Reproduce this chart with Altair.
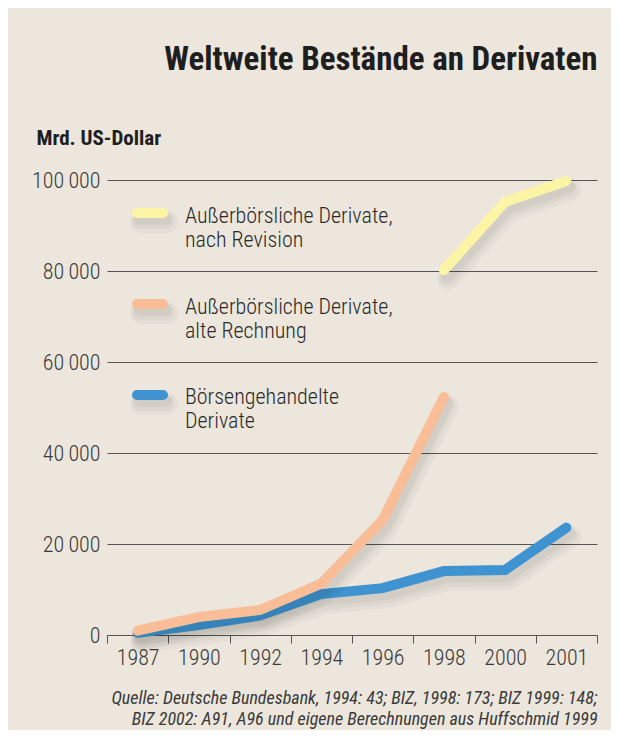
import altair as alt
import pandas as pd

years = ["1987", "1990", "1992", "1994", "1996", "1998", "2000", "2001"]
boerse = [500, 2200, 4300, 9000, 10300, 14050, 14300, 23600]
alte_rechnung = [950, 3950, 5500, 11300, 25300, 52300, None, None]
revision = [None, None, None, None, None, 80200, 95200, 99800]

series_names = [
    "Börsengehandelte Derivate",
    "Außerbörsliche Derivate, alte Rechnung",
    "Außerbörsliche Derivate, nach Revision",
]
series_values = [boerse, alte_rechnung, revision]
colors = ["#3e93d0", "#f9be98", "#fdf5a6"]
legend_lines = [
    "Börsengehandelte\nDerivate",
    "Außerbörsliche Derivate,\nalte Rechnung",
    "Außerbörsliche Derivate,\nnach Revision",
]

y_ticks = [0, 20000, 40000, 60000, 80000, 100000]

title_text = "Weltweite Bestände an Derivaten"
unit_text = "Mrd. US-Dollar"
source_lines = [
    "Quelle: Deutsche Bundesbank, 1994: 43; BIZ, 1998: 173; BIZ 1999: 148;",
    "BIZ 2002: A91, A96 und eigene Berechnungen aus Huffschmid 1999",
]

rows = []
for name, vals in zip(series_names, series_values):
    for yr, v in zip(years, vals):
        if v is not None:
            rows.append({"year": yr, "value": v, "series": name})
df = pd.DataFrame(rows)
one = pd.DataFrame({"k": [0]})

FONT = "'Roboto Condensed', 'Liberation Sans Narrow', 'DejaVu Sans Condensed', 'Roboto', sans-serif"
BG = "#ece6dd"
W, H = 490, 455

x_enc = alt.X(
    "year:O",
    sort=years,
    bandPosition=0.5,
    scale=alt.Scale(type="band", paddingInner=0, paddingOuter=0),
    axis=alt.Axis(
        title=source_lines,
        titleFont=FONT,
        titleFontSize=18,
        titleFontStyle="italic",
        titleFontWeight="normal",
        titleColor="#3a3a3a",
        titleAlign="right",
        titleAnchor="end",
        titleBaseline="alphabetic",
        titleLineHeight=21,
        titleX=W,
        titleY=68,
        labelFont=FONT,
        labelFontSize=22,
        labelFontWeight=300,
        labelColor="#3a3a3a",
        labelAngle=0,
        labelPadding=4,
        tickBand="extent",
        tickSize=8,
        tickColor="#555555",
        domainColor="#555555",
        grid=False,
    ),
)
y_enc = alt.Y(
    "value:Q",
    scale=alt.Scale(domain=[0, 100000], nice=False),
    axis=alt.Axis(
        values=y_ticks,
        labelExpr="replace(format(datum.value, ','), ',', '\u2009')",
        labelFont=FONT,
        labelFontSize=22,
        labelFontWeight=300,
        labelColor="#3a3a3a",
        labelPadding=7,
        labelLimit=300,
        ticks=False,
        domain=False,
        grid=True,
        gridColor="#555555",
        gridWidth=1,
        title=unit_text,
        titleFont=FONT,
        titleFontSize=21,
        titleFontWeight="bold",
        titleColor="#1e1e1e",
        titleAngle=0,
        titleAlign="left",
        titleBaseline="alphabetic",
        titleX=-71,
        titleY=-36,
    ),
)

SHADOWS = [(22, 0.03, 4, 9), (16, 0.035, 3, 8), (12, 0.04, 3, 6)]

base = alt.Chart(df)
layers = []
for name, col in zip(series_names, colors):
    sub = base.transform_filter(alt.datum.series == name)
    for sw, op, dx, dy in SHADOWS:
        layers.append(
            sub.mark_line(color="#000000", opacity=op, strokeWidth=sw, strokeCap="round",
                          strokeJoin="round", xOffset=dx, yOffset=dy).encode(x=x_enc, y=y_enc)
        )
    layers.append(
        sub.mark_line(color=col, strokeWidth=10, strokeCap="round", strokeJoin="miter").encode(
            x=x_enc, y=y_enc
        )
    )

# manual legend (top to bottom: revision, alte Rechnung, börse)
leg_sym_y = [215, 124, 33]
leg_txt_y = [224, 134, 43]
for col, txt, sy, ty in zip(colors, legend_lines, leg_sym_y, leg_txt_y):
    for sw, op, dx, dy in SHADOWS:
        layers.append(
            alt.Chart(one).mark_rule(color="#000000", opacity=op, strokeWidth=sw, strokeCap="round").encode(
                x=alt.value(30 + dx), x2=alt.value(56 + dx), y=alt.value(sy + dy)
            )
        )
    layers.append(
        alt.Chart(one).mark_rule(color=col, strokeWidth=10, strokeCap="round").encode(
            x=alt.value(30), x2=alt.value(56), y=alt.value(sy)
        )
    )
    layers.append(
        alt.Chart(one).mark_text(
            text=txt, lineBreak="\n", align="left", baseline="alphabetic",
            font=FONT, fontSize=22, fontWeight=300, lineHeight=24, color="#2a2a2a",
        ).encode(x=alt.value(78), y=alt.value(ty))
    )

chart = (
    alt.layer(*layers)
    .properties(
        width=W,
        height=H,
        background=BG,
        padding={"left": 99, "top": 172, "right": 14, "bottom": 95},
        autosize=alt.AutoSizeParams(type="none"),
        title=alt.TitleParams(
            text=title_text,
            anchor="end",
            font=FONT,
            fontSize=33,
            fontWeight="bold",
            color="#1e1e1e",
            offset=50,
        ),
    )
    .configure_view(stroke=None)
)

chart.save("out.html", embed_options={"renderer": "svg", "actions": False})
